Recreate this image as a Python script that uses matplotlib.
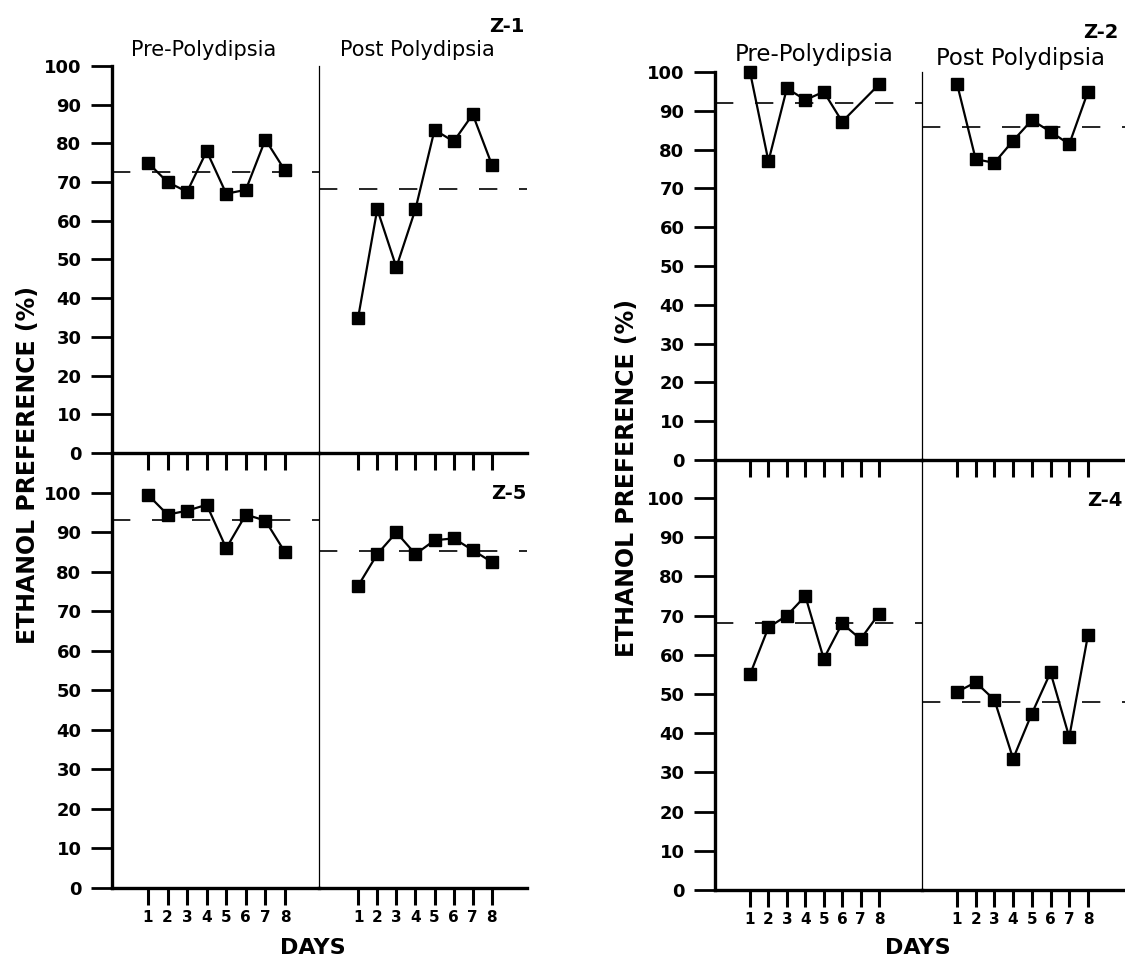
"""
Ethanol preference before / after polydipsia, subjects Z-1, Z-5, Z-2, Z-4.
Four two-part panels drawn as separate axes placed by pixel position.
"""
import matplotlib
matplotlib.use("Agg")
import matplotlib.pyplot as plt

W, H = 1125, 959

# ── Data ──────────────────────────────────────────────────────────────────────
DAYS = [1, 2, 3, 4, 5, 6, 7, 8]
DAY_LABELS = ["1", "2", "3", "4", "5", "6", "7", "8"]
Y_TICKS = [0, 10, 20, 30, 40, 50, 60, 70, 80, 90, 100]
Y_TICK_LABELS = ["0", "10", "20", "30", "40", "50", "60", "70", "80", "90", "100"]

z1_pre = [75, 70, 67.5, 78, 67, 68, 81, 73]
z1_post = [35, 63, 48, 63, 83.5, 80.5, 87.5, 74.5]
z1_means = [72.7, 68.2]

z5_pre = [99.5, 94.5, 95.5, 97, 86, 94.5, 93, 85]
z5_post = [76.5, 84.5, 90, 84.5, 88, 88.5, 85.5, 82.5]
z5_means = [93.2, 85.2]

z2_pre_days = [1, 2, 3, 4, 5, 6, 8]          # no point for day 7
z2_pre = [100, 77, 95.8, 92.8, 94.9, 87.2, 96.8]
z2_post = [97, 77.5, 76.6, 82.3, 87.6, 84.6, 81.4, 94.9]
z2_means = [91.9, 85.9]

z4_pre = [55, 67, 70, 75, 59, 68, 64, 70.5]
z4_post = [50.5, 53, 48.5, 33.5, 45, 55.5, 39, 65]
z4_means = [68, 48]

FONT = "DejaVu Sans"


def px_rect(x0, y0, x1, y1):
    return [x0 / W, 1 - y1 / H, (x1 - x0) / W, (y1 - y0) / H]


def draw_panel(ax, days, vals, mean, xlim, ylim, pre, bottom_row):
    ax.plot(days, vals, color="black", lw=1.6, marker="s", ms=8.5,
            clip_on=False, zorder=3)
    ax.axhline(mean, color="black", lw=1.2, ls=(0, (11, 13)))
    ax.set_xlim(*xlim)
    ax.set_ylim(*ylim)
    ax.patch.set_alpha(0)
    for s in ("top", "right"):
        ax.spines[s].set_visible(False)
    ax.spines["bottom"].set_linewidth(2.4)
    ax.spines["left"].set_linewidth(2.4 if pre else 0.9)

    ax.set_xticks(DAYS)
    ax.tick_params(axis="x", direction="out", length=12, width=2.2)
    if bottom_row:
        ax.set_xticklabels(DAY_LABELS, fontsize=11, fontweight="bold",
                           family=FONT)
        ax.tick_params(axis="x", pad=4)
    else:
        ax.set_xticklabels([])

    if pre:
        ax.set_yticks(Y_TICKS)
        ax.set_yticklabels(Y_TICK_LABELS, fontsize=13, fontweight="bold",
                           family=FONT)
        ax.tick_params(axis="y", direction="out", length=15, width=2.0, pad=7)
    else:
        ax.set_yticks([])


fig = plt.figure(figsize=(W / 100, H / 100), dpi=100)

# left block: Z-1 (top), Z-5 (bottom)
draw_panel(fig.add_axes(px_rect(112, 66, 319, 453)), DAYS, z1_pre, z1_means[0],
           (-0.84, 9.74), (0, 100), True, False)
draw_panel(fig.add_axes(px_rect(319, 66, 527, 453)), DAYS, z1_post, z1_means[1],
           (-1.05, 9.84), (0, 100), False, False)
draw_panel(fig.add_axes(px_rect(112, 453, 319, 888)), DAYS, z5_pre, z5_means[0],
           (-0.84, 9.74), (0, 110.1), True, True)
draw_panel(fig.add_axes(px_rect(319, 453, 527, 888)), DAYS, z5_post, z5_means[1],
           (-1.05, 9.84), (0, 110.1), False, True)

# right block: Z-2 (top), Z-4 (bottom)
draw_panel(fig.add_axes(px_rect(715, 72, 922, 460)), z2_pre_days, z2_pre, z2_means[0],
           (-0.9, 10.33), (0, 100), True, False)
draw_panel(fig.add_axes(px_rect(922, 72, 1125, 460)), DAYS, z2_post, z2_means[1],
           (-0.87, 9.98), (0, 100), False, False)
draw_panel(fig.add_axes(px_rect(715, 460, 922, 890)), DAYS, z4_pre, z4_means[0],
           (-0.9, 10.33), (0, 109.7), True, True)
draw_panel(fig.add_axes(px_rect(922, 460, 1125, 890)), DAYS, z4_post, z4_means[1],
           (-0.87, 9.98), (0, 109.7), False, True)


def ftext(x, y, s, **kw):
    fig.text(x / W, 1 - y / H, s, family=FONT, va="center", **kw)


# headers
ftext(204, 50, "Pre-Polydipsia", ha="center", fontsize=15)
ftext(417, 50, "Post Polydipsia", ha="center", fontsize=15)
ftext(814, 55, "Pre-Polydipsia", ha="center", fontsize=16.5)
ftext(1021, 58, "Post Polydipsia", ha="center", fontsize=16.5)

# subject labels
ftext(524, 26, "Z-1", ha="right", fontsize=14, fontweight="bold")
ftext(527, 493, "Z-5", ha="right", fontsize=14, fontweight="bold")
ftext(1118, 33, "Z-2", ha="right", fontsize=14, fontweight="bold")
ftext(1087, 500, "Z-4", ha="left", fontsize=14, fontweight="bold")

# axis titles
ftext(28, 465, "ETHANOL PREFERENCE (%)", ha="center", rotation=90,
      fontsize=17, fontweight="bold")
ftext(627, 478, "ETHANOL PREFERENCE (%)", ha="center", rotation=90,
      fontsize=17, fontweight="bold")
ftext(313, 948, "DAYS", ha="center", fontsize=16, fontweight="bold")
ftext(918, 948, "DAYS", ha="center", fontsize=16, fontweight="bold")

fig.savefig("out.png", dpi=100)
plt.close(fig)
